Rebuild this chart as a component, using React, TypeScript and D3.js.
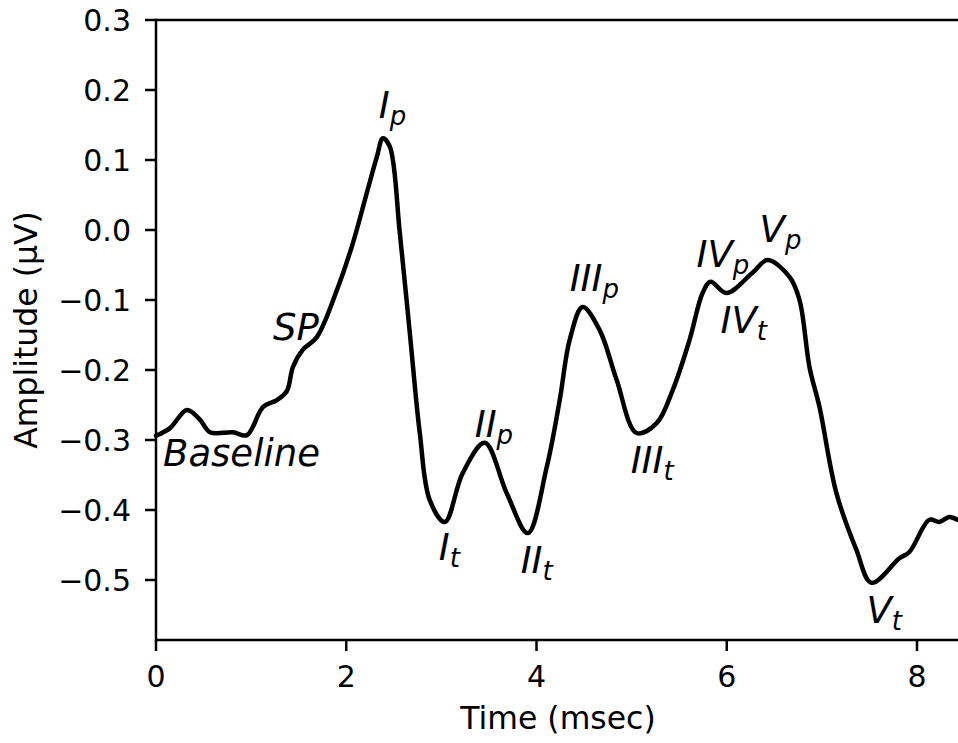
import React from "react";
import * as d3 from "d3";

const timeMs = [0.0, 0.147, 0.326, 0.462, 0.567, 0.809, 0.956, 1.124, 1.271, 1.376, 1.439, 1.544, 1.691, 1.901, 2.069, 2.216, 2.321, 2.385, 2.458, 2.563, 2.668, 2.773, 2.878, 3.036, 3.225, 3.456, 3.687, 3.908, 4.107, 4.244, 4.349, 4.485, 4.664, 4.842, 5.053, 5.263, 5.431, 5.609, 5.746, 5.83, 5.998, 6.271, 6.429, 6.66, 6.765, 6.87, 6.975, 7.153, 7.363, 7.521, 7.815, 7.92, 8.13, 8.235, 8.34, 8.424];
const amplitude = [-0.294, -0.283, -0.257, -0.271, -0.289, -0.289, -0.293, -0.253, -0.243, -0.23, -0.196, -0.171, -0.153, -0.086, -0.019, 0.053, 0.104, 0.131, 0.119, -0.004, -0.147, -0.29, -0.386, -0.417, -0.347, -0.304, -0.376, -0.433, -0.339, -0.243, -0.157, -0.11, -0.143, -0.214, -0.29, -0.276, -0.229, -0.157, -0.09, -0.074, -0.09, -0.061, -0.043, -0.067, -0.1, -0.196, -0.253, -0.376, -0.457, -0.504, -0.469, -0.46, -0.414, -0.417, -0.41, -0.414];

const yTicks = [0.3, 0.2, 0.1, 0.0, -0.1, -0.2, -0.3, -0.4, -0.5];
const xTicks = [0, 2, 4, 6, 8];

const labelMain = ["Baseline", "SP", "I", "II", "I", "II", "III", "III", "IV", "V", "IV", "V"];
const labelSub = ["", "", "p", "p", "t", "t", "p", "t", "p", "p", "t", "t"];
const labelX = [0.074, 1.229, 2.342, 3.351, 2.973, 3.834, 4.349, 4.99, 5.683, 6.345, 5.935, 7.469];
const labelY = [-0.337, -0.157, 0.16, -0.296, -0.471, -0.49, -0.087, -0.347, -0.053, -0.017, -0.147, -0.561];

const W = 958;
const H = 743;
const left = 156;
const top = 20;
const bottom = 640;

export default function App() {
  const x = d3.scaleLinear().domain([0, 8]).range([left, 917]);
  const y = d3.scaleLinear().domain([-0.5, 0.3]).range([580, top]);
  const yBottomVal = y.invert(bottom);
  y.domain([yBottomVal, 0.3]).range([bottom, top]);

  const pts: [number, number][] = timeMs.map((t, i) => [t, amplitude[i]]);
  const line = d3
    .line<[number, number]>()
    .x((d) => x(d[0]))
    .y((d) => y(d[1]))
    .curve(d3.curveCatmullRom.alpha(0.5));

  const fmt = (v: number) => {
    const s = Math.abs(v).toFixed(1);
    return v < -1e-9 ? "\u2212" + s : s;
  };

  const font = "'DejaVu Sans', sans-serif";

  return (
    <svg
      width={W}
      height={H}
      style={{ position: "fixed", left: 0, top: 0, background: "#fff" }}
      fontFamily={font}
    >
      <rect x={0} y={0} width={W} height={H} fill="#fff" />
      <path d={line(pts) || ""} fill="none" stroke="#000" strokeWidth={4.5} strokeLinejoin="round" strokeLinecap="round" />
      {/* spines */}
      <line x1={left} x2={W + 5} y1={top} y2={top} stroke="#000" strokeWidth={2.5} />
      <line x1={left} x2={W + 5} y1={bottom} y2={bottom} stroke="#000" strokeWidth={2.5} />
      <line x1={left} x2={left} y1={top - 1.25} y2={bottom + 1.25} stroke="#000" strokeWidth={2.5} />
      {/* y ticks */}
      {yTicks.map((v) => (
        <g key={"y" + v}>
          <line x1={left - 11} x2={left} y1={y(v)} y2={y(v)} stroke="#000" strokeWidth={2.5} />
          <text x={131} y={y(v) + 10.8} textAnchor="end" fontSize={30}>
            {fmt(v)}
          </text>
        </g>
      ))}
      {/* x ticks */}
      {xTicks.map((v) => (
        <g key={"x" + v}>
          <line x1={x(v)} x2={x(v)} y1={bottom} y2={bottom + 11} stroke="#000" strokeWidth={2.5} />
          <text x={x(v)} y={687} textAnchor="middle" fontSize={30}>
            {String(v)}
          </text>
        </g>
      ))}
      <text x={558} y={729} textAnchor="middle" fontSize={31.5}>
        Time (msec)
      </text>
      <text transform={`translate(37,${(top + bottom) / 2}) rotate(-90)`} textAnchor="middle" fontSize={31.5}>
        Amplitude (μV)
      </text>
      {/* annotations */}
      {labelMain.map((m, i) => (
        <text key={"l" + i} x={x(labelX[i])} y={y(labelY[i])} fontSize={37} fontStyle="italic">
          {m}
          {labelSub[i] ? (
            <tspan fontSize={26} dy={7}>
              {labelSub[i]}
            </tspan>
          ) : null}
        </text>
      ))}
    </svg>
  );
}
